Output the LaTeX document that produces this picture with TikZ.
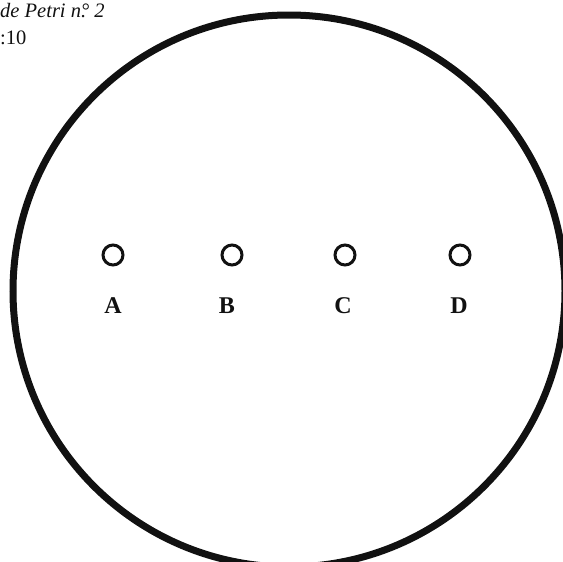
\documentclass[tikz,border=0pt]{standalone}
\usepackage{fontspec}
\usepackage{xcolor}
\usepackage{tikz}
\setmainfont{Liberation Serif}
\definecolor{inkBlack}{HTML}{111111}

\begin{document}
\begin{tikzpicture}[x=1pt, y=-1pt,
    well/.style={circle, draw=inkBlack, line width=3pt, minimum size=20pt, inner sep=0pt},
    wellLabel/.style={font=\fontsize{24}{24}\selectfont\bfseries, color=inkBlack, anchor=base, inner sep=0pt}]
        \useasboundingbox (0, 0) rectangle (563, 562);
        % dish outline
        \draw[inkBlack, line width=7pt] (289, 291) circle (276pt);
        % caption
        \node[font=\fontsize{20.5}{20.5}\selectfont\itshape, color=inkBlack, anchor=base west, inner sep=0pt] (title) at (0, 17) {de Petri n\makebox[0pt][l]{.}\textdegree\ 2};
        \node[font=\fontsize{20.5}{20.5}\selectfont, color=inkBlack, anchor=base west, inner sep=0pt] (scale) at (0, 44) {:10};
        % wells
        \node[well] (wellA) at (113, 255) {};
        \node[well] (wellB) at (232, 255) {};
        \node[well] (wellC) at (345, 255) {};
        \node[well] (wellD) at (460, 255) {};
        \node[wellLabel] (labA) at (113, 313) {A};
        \node[wellLabel] (labB) at (227, 313) {B};
        \node[wellLabel] (labC) at (343, 313) {C};
        \node[wellLabel] (labD) at (459, 313) {D};
      \end{tikzpicture}
\end{document}
